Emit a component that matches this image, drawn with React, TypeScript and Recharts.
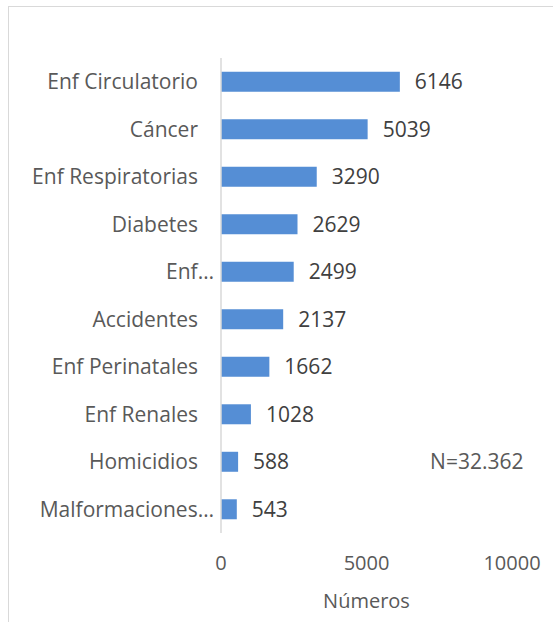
import React from 'react';
import { BarChart, Bar, XAxis, YAxis, LabelList, ReferenceDot } from 'recharts';

const categories = [
  'Enf Circulatorio',
  'Cáncer',
  'Enf Respiratorias',
  'Diabetes',
  'Enf…',
  'Accidentes',
  'Enf Perinatales',
  'Enf Renales',
  'Homicidios',
  'Malformaciones…',
];
const values = [6146, 5039, 3290, 2629, 2499, 2137, 1662, 1028, 588, 543];
const xTicks = [0, 5000, 10000];
const annotation = 'N=32.362';
const axisTitle = 'Números';

const data = categories.map((c, i) => ({ name: c, value: values[i] }));

const FONT = '"Open Sans", sans-serif';
const AXIS_COLOR = '#595959';

const YTick = (props: any) => {
  const { x, y, payload } = props;
  const truncated = String(payload.value).endsWith('…');
  return (
    <text
      x={x + (truncated ? 16 : 0)}
      y={y}
      dy="0.355em"
      textAnchor="end"
      fill={AXIS_COLOR}
      fontSize={21}
      fontFamily={FONT}
    >
      {payload.value}
    </text>
  );
};

export default function App() {
  return (
    <div
      style={{
        position: 'fixed',
        left: 8,
        top: 6,
        width: 545,
        height: 616,
        overflow: 'hidden',
        background: '#fff',
      }}
    >
      <div
        style={{
          position: 'absolute',
          left: 0,
          top: 0,
          width: 560,
          height: 640,
          border: '1px solid #d9d9d9',
          boxSizing: 'border-box',
        }}
      />
      <div style={{ position: 'absolute', left: 0, top: 0 }}>
        <BarChart
          width={545}
          height={616}
          data={data}
          layout="vertical"
          margin={{ top: 52, right: 41, left: 0, bottom: 0 }}
          barCategoryGap="29%"
        >
          <XAxis
            type="number"
            domain={[0, 10000]}
            ticks={xTicks}
            axisLine={false}
            tickLine={false}
            tickSize={0}
            tickMargin={23}
            height={89}
            tick={{ fill: AXIS_COLOR, fontSize: 20, fontFamily: FONT }}
            label={{
              value: axisTitle,
              position: 'insideBottom',
              offset: 14,
              fill: AXIS_COLOR,
              fontSize: 20,
              fontFamily: FONT,
            }}
          />
          <YAxis
            type="category"
            dataKey="name"
            width={213}
            axisLine={{ stroke: '#d9d9d9', strokeWidth: 1.5 }}
            tickLine={false}
            tickSize={0}
            tickMargin={23}
            interval={0}
            tick={<YTick />}
          />
          <Bar dataKey="value" fill="#558ed5" isAnimationActive={false}>
            <LabelList
              dataKey="value"
              position="right"
              offset={15}
              fill="#404040"
              fontSize={21}
              fontFamily={FONT}
            />
          </Bar>
          <ReferenceDot
            x={8790}
            y="Homicidios"
            r={0}
            fill="none"
            stroke="none"
            label={{
              value: annotation,
              position: 'center',
              fill: AXIS_COLOR,
              fontSize: 21,
              fontFamily: FONT,
            }}
          />
        </BarChart>
      </div>
    </div>
  );
}
